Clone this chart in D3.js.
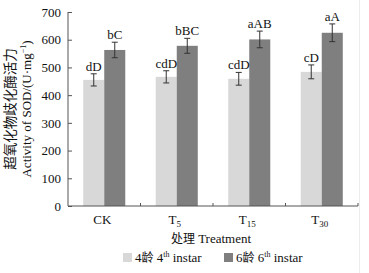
<!DOCTYPE html>
<html><head><meta charset="utf-8">
<script src="https://cdn.jsdelivr.net/npm/d3@7"></script>
<style>body{margin:0;background:#fff}svg{display:block}</style>
</head><body><div id="chart"></div>
<script>
// data
const treatments = ["CK", "T5", "T15", "T30"];
const tickSubs = ["", "5", "15", "30"];
const series = ["4th", "6th"];
const instar4 = [455, 466, 459, 484];
const instar4Err = [22, 22, 23, 25];
const instar6 = [563, 578, 601, 625];
const instar6Err = [28, 27, 30, 32];
const letters4 = ["dD", "cdD", "cdD", "cD"];
const letters6 = ["bC", "bBC", "aAB", "aA"];
const yTicks = [0, 100, 200, 300, 400, 500, 600, 700];

const W = 369, H = 273;
const margin = {top: 12, right: 11, bottom: 67, left: 68};
const width = W - margin.left - margin.right,
      height = H - margin.top - margin.bottom;
const serif = "'Liberation Serif', 'DejaVu Serif', serif";
const cjk = "'Noto Sans CJK SC', sans-serif";

const svg = d3.select("#chart").append("svg")
    .attr("width", W).attr("height", H);
svg.append("rect").attr("width", W).attr("height", H).attr("fill", "#fff");
svg.append("line").attr("x1", 359.5).attr("x2", 359.5).attr("y1", 0).attr("y2", H)
    .attr("stroke", "#ececec");

const g = svg.append("g").attr("transform", `translate(${margin.left},${margin.top})`);

const x0 = d3.scaleBand().domain(treatments).range([0, width]).paddingInner(0.42).paddingOuter(0.21);
const x1 = d3.scaleBand().domain(series).range([0, x0.bandwidth()]);
const y = d3.scaleLinear().domain([0, 700]).range([height, 0]);
const colors = {"4th": "#d8d8d8", "6th": "#7f7f7f"};

const rows = treatments.map((t, i) => ({
    t,
    vals: [
        {s: "4th", v: instar4[i], e: instar4Err[i], lab: letters4[i]},
        {s: "6th", v: instar6[i], e: instar6Err[i], lab: letters6[i]}
    ]
}));

const grp = g.selectAll(".grp").data(rows).enter().append("g")
    .attr("transform", d => `translate(${x0(d.t)},0)`);

grp.selectAll("rect").data(d => d.vals).enter().append("rect")
    .attr("x", d => x1(d.s)).attr("width", x1.bandwidth())
    .attr("y", d => y(d.v)).attr("height", d => height - y(d.v))
    .attr("fill", d => colors[d.s]);

// error bars
const eb = grp.selectAll(".eb").data(d => d.vals).enter().append("g")
    .attr("stroke", "#333").attr("stroke-width", 1);
eb.append("line")
    .attr("x1", d => x1(d.s) + x1.bandwidth() / 2).attr("x2", d => x1(d.s) + x1.bandwidth() / 2)
    .attr("y1", d => y(d.v + d.e)).attr("y2", d => y(d.v - d.e));
eb.append("line")
    .attr("x1", d => x1(d.s) + x1.bandwidth() / 2 - 3).attr("x2", d => x1(d.s) + x1.bandwidth() / 2 + 3)
    .attr("y1", d => y(d.v + d.e)).attr("y2", d => y(d.v + d.e));
eb.append("line")
    .attr("x1", d => x1(d.s) + x1.bandwidth() / 2 - 3).attr("x2", d => x1(d.s) + x1.bandwidth() / 2 + 3)
    .attr("y1", d => y(d.v - d.e)).attr("y2", d => y(d.v - d.e));

grp.selectAll(".lab").data(d => d.vals).enter().append("text")
    .attr("x", d => x1(d.s) + x1.bandwidth() / 2)
    .attr("y", d => y(d.v + d.e) - 3)
    .attr("text-anchor", "middle")
    .style("font-family", serif).style("font-size", "13px").style("fill", "#111")
    .text(d => d.lab);

// y axis
const yAxis = g.append("g")
    .call(d3.axisLeft(y).tickValues(yTicks).tickSize(-4).tickPadding(7))
    .attr("font-family", serif).attr("font-size", 13);
yAxis.selectAll("text").style("font-family", serif).style("font-size", "13px").attr("fill", "#111");
yAxis.selectAll("line, path").attr("stroke", "#555");
yAxis.select(".domain").attr("d", `M0,0V${height}`);

// x axis with inward ticks at group boundaries
const xAxis = g.append("g").attr("transform", `translate(0,${height})`);
xAxis.append("line").attr("x1", 0).attr("x2", width).attr("stroke", "#555");
xAxis.selectAll(".tk").data(treatments).enter().append("line")
    .attr("x1", d => x0(d) + x0.bandwidth() + x0.step() * x0.paddingInner() / 2)
    .attr("x2", d => x0(d) + x0.bandwidth() + x0.step() * x0.paddingInner() / 2)
    .attr("y1", 0).attr("y2", -3).attr("stroke", "#555");

const xl = xAxis.selectAll(".xl").data(treatments).enter().append("text")
    .attr("x", d => x0(d) + x0.bandwidth() / 2 - 2)
    .attr("y", 18)
    .attr("text-anchor", "middle")
    .style("font-family", serif).style("font-size", "13px").style("fill", "#111");
xl.append("tspan").text(d => d[0] === "C" ? "CK" : "T");
xl.append("tspan").attr("dy", 3).style("font-size", "9px")
    .text((d, i) => tickSubs[i]);

const xt = svg.append("text").attr("x", margin.left + width / 2 - 2).attr("y", 243)
    .attr("text-anchor", "middle").style("fill", "#111").style("font-family", serif).style("font-size", "13px");
xt.append("tspan").style("font-family", cjk).style("font-size", "12px").text("处理");
xt.append("tspan").text(" Treatment");

// y title
const yt = svg.append("g").attr("transform", `translate(0,${margin.top + height / 2}) rotate(-90)`);
yt.append("text").attr("x", 0).attr("y", 15).attr("text-anchor", "middle")
    .style("font-family", cjk).style("font-size", "13.5px").style("fill", "#111")
    .text("超氧化物歧化酶活力");
const yt2 = yt.append("text").attr("x", 0).attr("y", 31).attr("text-anchor", "middle")
    .style("font-family", serif).style("font-size", "13px").style("fill", "#111");
yt2.append("tspan").text("Activity of SOD/(U·mg");
yt2.append("tspan").attr("dy", -5).style("font-size", "8px").text("−1");
yt2.append("tspan").attr("dy", 5).text(")");

// legend
const legendItems = [
    {s: "4th", num: "4", x: 123},
    {s: "6th", num: "6", x: 224}
];
const lg = svg.selectAll(".lg").data(legendItems).enter().append("g")
    .attr("transform", d => `translate(${d.x},253)`);
lg.append("rect").attr("width", 9).attr("height", 9).attr("fill", d => colors[d.s]);
const lt = lg.append("text").attr("x", 12).attr("y", 9).style("fill", "#111")
    .style("font-family", serif).style("font-size", "13px");
lt.append("tspan").text(d => d.num);
lt.append("tspan").style("font-family", cjk).style("font-size", "12px").text("龄");
lt.append("tspan").text(d => " " + d.num);
lt.append("tspan").attr("dy", -5).style("font-size", "8px").text("th");
lt.append("tspan").attr("dy", 5).text(" instar");
</script>
</body></html>
